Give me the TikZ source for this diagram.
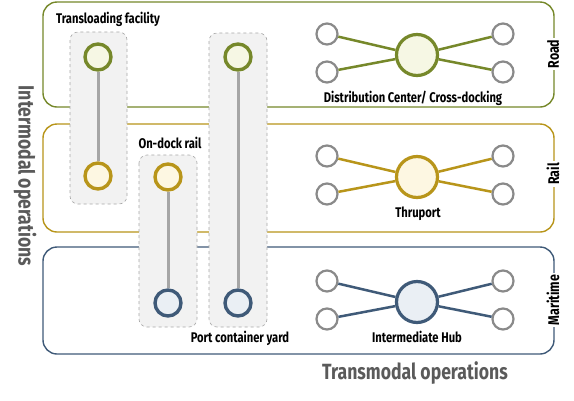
\documentclass[tikz,border=0pt]{standalone}
\usepackage{fontspec}
\setmainfont[FakeStretch=0.8]{Fira Sans}
\definecolor{roadc}{HTML}{76882A}
\definecolor{railc}{HTML}{B8951A}
\definecolor{marc}{HTML}{3F5A78}
\definecolor{roadf}{HTML}{F6F7E4}
\definecolor{railf}{HTML}{FDF7E2}
\definecolor{marf}{HTML}{EAEFF4}
\definecolor{ringg}{HTML}{8A8A8A}
\definecolor{linkg}{HTML}{A6A6A6}
\definecolor{boxg}{HTML}{F2F2F2}
\definecolor{dashg}{HTML}{A8A8A8}
\definecolor{titleg}{HTML}{5A5A5A}
\tikzset{
  band/.style={draw=#1, line width=1.4pt, rounded corners=14pt},
  modelabel/.style={fill=white, inner sep=2pt, rotate=90, font=\bfseries\fontsize{15.5}{17}\selectfont, text=black},
  group/.style={draw=dashg, dashed, fill=boxg, rounded corners=8pt, line width=0.6pt},
  term/.style={circle, draw=#1, line width=3.4pt, minimum size=26pt, inner sep=0pt},
  hub/.style={circle, draw=#1, line width=3.2pt, minimum size=41pt, inner sep=0pt},
  leaf/.style={circle, draw=ringg, fill=white, line width=2.2pt, minimum size=21pt, inner sep=0pt},
  link/.style={draw=linkg, line width=3pt},
  spoke/.style={draw=#1, line width=2.5pt},
  lbl/.style={font=\bfseries\fontsize{14}{16}\selectfont, text=black, inner sep=1pt},
  big/.style={font=\bfseries\fontsize{22}{25}\selectfont, text=titleg, inner sep=0pt}
}
\begin{document}
\begin{tikzpicture}[x=1pt,y=-1pt]
\useasboundingbox (0,0) rectangle (574,400);
\fill[white] (0,0) rectangle (574,400);
% bands
\draw[band=roadc] (43,2) rectangle (554,107);
\draw[band=railc] (43,124) rectangle (554,232);
\draw[band=marc] (43,247) rectangle (554,354);
\node[modelabel] (lroad) at (553,54) {Road};
\node[modelabel] (lrail) at (553,174) {Rail};
\node[modelabel] (lmar) at (553,300) {Maritime};
% groups
\draw[group] (70,32) rectangle (127,204);
\draw[group] (139,155) rectangle (197,327);
\draw[group] (209,33) rectangle (267,327);
% terminals
\node[term=roadc, fill=roadf] (t1a) at (98,57) {};
\node[term=railc, fill=railf] (t1b) at (98,176) {};
\node[term=railc, fill=railf] (t2a) at (168,177) {};
\node[term=marc, fill=marf] (t2b) at (168,303) {};
\node[term=roadc, fill=roadf] (t3a) at (238,57) {};
\node[term=marc, fill=marf] (t3b) at (238,303) {};
\draw[link] (t1a) -- (t1b);
\draw[link] (t2a) -- (t2b);
\draw[link] (t3a) -- (t3b);
% hubs
\foreach \n/\y/\c/\f in {road/55/roadc/roadf, rail/177/railc/railf, mar/302/marc/marf}{
  \node[hub=\c, fill=\f] (h\n) at (417,\y) {};
  \node[leaf] (\n lt) at (327,\y-21) {};
  \node[leaf] (\n lb) at (327,\y+17) {};
  \node[leaf] (\n rt) at (503,\y-21) {};
  \node[leaf] (\n rb) at (503,\y+17) {};
  \draw[spoke=\c] (h\n) -- (\n lt);
  \draw[spoke=\c] (h\n) -- (\n lb);
  \draw[spoke=\c] (h\n) -- (\n rt);
  \draw[spoke=\c] (h\n) -- (\n rb);
}
% labels
\node[lbl] (ltrans) at (108,19) {Transloading facility};
\node[lbl] (ldock) at (170,143) {On-dock rail};
\node[lbl] (lport) at (240,338) {Port container yard};
\node[lbl] (ldc) at (413,98) {Distribution Center/ Cross-docking};
\node[lbl] (lthru) at (418,214) {Thruport};
\node[lbl] (lhub) at (417,337) {Intermediate Hub};
\node[big, rotate=-90] (linter) at (25,176) {Intermodal operations};
\node[big] (ltransm) at (415,373) {Transmodal operations};
\end{tikzpicture}
\end{document}
